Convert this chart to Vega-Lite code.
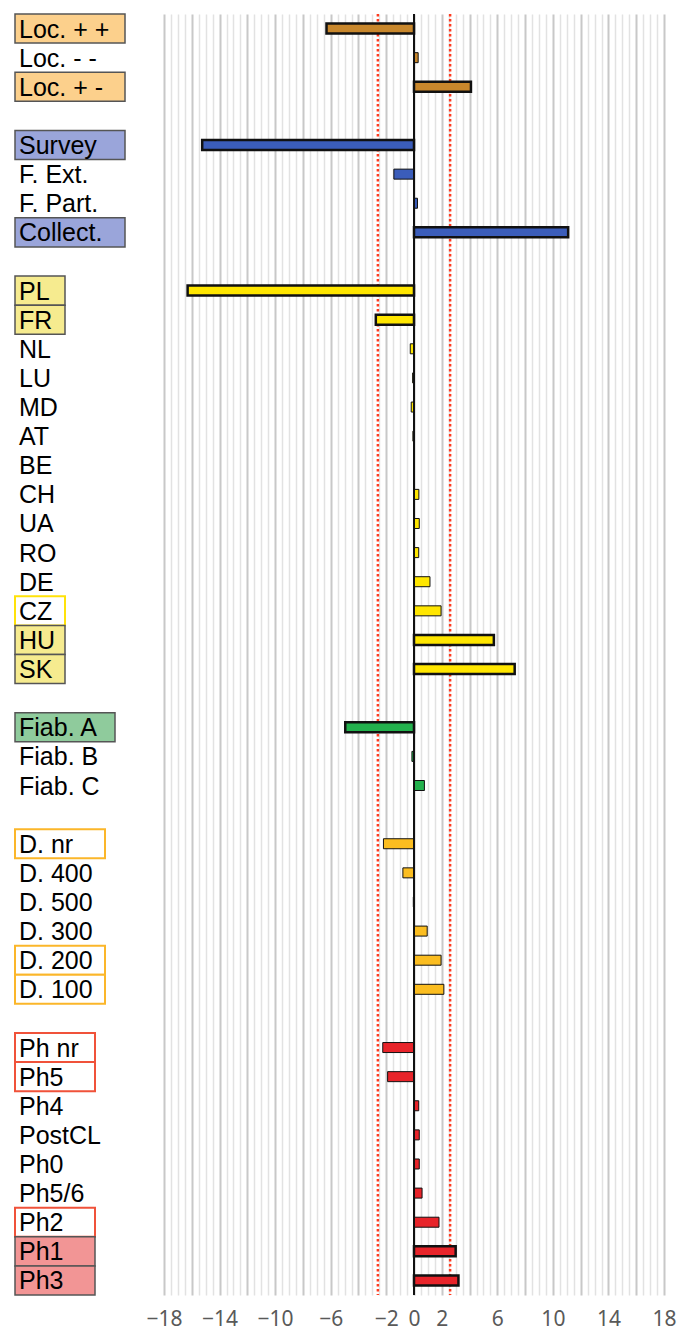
{
  "$schema": "https://vega.github.io/schema/vega-lite/v6.json",
  "padding": {"left": 14, "top": 12, "right": 0, "bottom": 5},
  "background": "white",
  "config": {"view": {"stroke": null}},
  "data": {"values": [
    {"group": "loc", "label": "Loc. + +", "value": -6.3, "sig": "strong"},
    {"group": "loc", "label": "Loc. - -", "value": 0.3, "sig": "none"},
    {"group": "loc", "label": "Loc. + -", "value": 4.1, "sig": "strong"},
    {"group": "survey", "label": "Survey", "value": -15.25, "sig": "strong"},
    {"group": "survey", "label": "F. Ext.", "value": -1.45, "sig": "none"},
    {"group": "survey", "label": "F. Part.", "value": 0.25, "sig": "none"},
    {"group": "survey", "label": "Collect.", "value": 11.1, "sig": "strong"},
    {"group": "country", "label": "PL", "value": -16.3, "sig": "strong"},
    {"group": "country", "label": "FR", "value": -2.75, "sig": "strong"},
    {"group": "country", "label": "NL", "value": -0.27, "sig": "none"},
    {"group": "country", "label": "LU", "value": -0.1, "sig": "none"},
    {"group": "country", "label": "MD", "value": -0.2, "sig": "none"},
    {"group": "country", "label": "AT", "value": -0.08, "sig": "none"},
    {"group": "country", "label": "BE", "value": -0.03, "sig": "none"},
    {"group": "country", "label": "CH", "value": 0.35, "sig": "none"},
    {"group": "country", "label": "UA", "value": 0.38, "sig": "none"},
    {"group": "country", "label": "RO", "value": 0.34, "sig": "none"},
    {"group": "country", "label": "DE", "value": 1.15, "sig": "none"},
    {"group": "country", "label": "CZ", "value": 1.95, "sig": "weak"},
    {"group": "country", "label": "HU", "value": 5.75, "sig": "strong"},
    {"group": "country", "label": "SK", "value": 7.25, "sig": "strong"},
    {"group": "fiab", "label": "Fiab. A", "value": -4.95, "sig": "strong"},
    {"group": "fiab", "label": "Fiab. B", "value": -0.15, "sig": "none"},
    {"group": "fiab", "label": "Fiab. C", "value": 0.75, "sig": "none"},
    {"group": "dist", "label": "D. nr", "value": -2.2, "sig": "weak"},
    {"group": "dist", "label": "D. 400", "value": -0.8, "sig": "none"},
    {"group": "dist", "label": "D. 500", "value": -0.05, "sig": "none"},
    {"group": "dist", "label": "D. 300", "value": 0.95, "sig": "none"},
    {"group": "dist", "label": "D. 200", "value": 1.95, "sig": "weak"},
    {"group": "dist", "label": "D. 100", "value": 2.15, "sig": "weak"},
    {"group": "phase", "label": "Ph nr", "value": -2.25, "sig": "weak"},
    {"group": "phase", "label": "Ph5", "value": -1.9, "sig": "weak"},
    {"group": "phase", "label": "Ph4", "value": 0.34, "sig": "none"},
    {"group": "phase", "label": "PostCL", "value": 0.38, "sig": "none"},
    {"group": "phase", "label": "Ph0", "value": 0.38, "sig": "none"},
    {"group": "phase", "label": "Ph5/6", "value": 0.58, "sig": "none"},
    {"group": "phase", "label": "Ph2", "value": 1.8, "sig": "weak"},
    {"group": "phase", "label": "Ph1", "value": 3.0, "sig": "strong"},
    {"group": "phase", "label": "Ph3", "value": 3.2, "sig": "strong"}
  ]},
  "spacing": 19,
  "bounds": "flush",
  "resolve": {"scale": {"fill": "independent", "stroke": "independent", "x": "independent"}},
  "hconcat": [
    {
      "width": 130,
      "height": 1281,
      "layer": [
        {
          "transform": [
            {"filter": "datum.sig != 'none'"},
            {"calculate": "length(datum.label)", "as": "len"},
            {"joinaggregate": [{"op": "max", "field": "len", "as": "boxLen"}], "groupby": ["group"]}
          ],
          "mark": {"type": "rect"},
          "encoding": {
            "x": {"field": "boxLen", "type": "quantitative", "scale": {"domain": [-3, 10], "nice": false, "zero": false}, "axis": null},
            "x2": {"datum": -3},
            "y": {"field": "label", "type": "nominal", "axis": null, "scale": {"paddingInner": 0, "paddingOuter": 0, "domain": ["Loc. + +","Loc. - -","Loc. + -","gap1","Survey","F. Ext.","F. Part.","Collect.","gap2","PL","FR","NL","LU","MD","AT","BE","CH","UA","RO","DE","CZ","HU","SK","gap3","Fiab. A","Fiab. B","Fiab. C","gap4","D. nr","D. 400","D. 500","D. 300","D. 200","D. 100","gap5","Ph nr","Ph5","Ph4","PostCL","Ph0","Ph5/6","Ph2","Ph1","Ph3"]}},
            "fill": {"condition": {"test": "datum.sig == 'weak'", "value": "#FFFFFF"}, "field": "group", "type": "nominal", "legend": null, "scale": {"domain": ["loc","survey","country","fiab","dist","phase"], "range": ["#FCD08C","#9AA5DA","#F6EB8F","#8FCB9C","#FBD27A","#F29595"]}},
            "stroke": {"condition": {"test": "datum.sig == 'strong'", "value": "#555555"}, "field": "group", "type": "nominal", "legend": null, "scale": {"domain": ["loc","survey","country","fiab","dist","phase"], "range": ["#E9A64A","#5A70C8","#FFE20A","#2EB052","#FBB62A","#F0523A"]}},
            "strokeWidth": {"condition": {"test": "datum.sig == 'strong'", "value": 1.5}, "value": 2}
          }
        },
        {
          "mark": {"type": "text", "align": "left", "baseline": "middle", "dx": 4, "dy": 1, "font": "Liberation Sans", "fontSize": 25, "color": "#000000"},
          "encoding": {
            "x": {"datum": -3, "type": "quantitative", "axis": null},
            "y": {"field": "label", "type": "nominal", "axis": null},
            "text": {"field": "label"}
          }
        }
      ]
    },
    {
      "width": 500,
      "height": 1281,
      "resolve": {"axis": {"x": "independent"}},
      "layer": [
        {
          "data": {"values": [{"threshold": -2.6}, {"threshold": 2.6}]},
          "mark": {"type": "rule", "color": "#FF3B1F", "strokeWidth": 2.5, "strokeDash": [2.5, 2.5]},
          "encoding": {
            "x": {"field": "threshold", "type": "quantitative", "scale": {"domain": [-18, 18], "nice": false, "zero": false},
              "axis": {"orient": "top", "grid": true, "labels": false, "ticks": false, "domain": false, "title": null, "gridColor": "#E2E2E2", "gridWidth": 1.5,
                "values": [-17.5,-17,-16.5,-15.5,-15,-14.5,-13.5,-13,-12.5,-11.5,-11,-10.5,-9.5,-9,-8.5,-7.5,-7,-6.5,-5.5,-5,-4.5,-3.5,-3,-2.5,-1.5,-1,-0.5,0.5,1,1.5,2.5,3,3.5,4.5,5,5.5,6.5,7,7.5,8.5,9,9.5,10.5,11,11.5,12.5,13,13.5,14.5,15,15.5,16.5,17,17.5]}}
          }
        },
        {
          "mark": {"type": "bar", "size": 10, "stroke": "#111111"},
          "encoding": {
            "x": {"field": "value", "type": "quantitative",
              "axis": {"orient": "bottom", "grid": true, "gridColor": "#C8C8C8", "gridWidth": 2, "ticks": false, "domain": false, "title": null, "labelFlush": false, "labelOverlap": false,
                "values": [-18,-16,-14,-12,-10,-8,-6,-4,-2,0,2,4,6,8,10,12,14,16,18],
                "labelExpr": "indexof([-18,-14,-10,-6,-2,0,2,6,10,14,18], datum.value) >= 0 ? datum.label : ''",
                "labelFont": "Noto Sans", "labelFontSize": 21, "labelColor": "#595959", "labelPadding": 13}},
            "y": {"field": "label", "type": "nominal", "axis": null, "scale": {"paddingInner": 0, "paddingOuter": 0, "domain": ["Loc. + +","Loc. - -","Loc. + -","gap1","Survey","F. Ext.","F. Part.","Collect.","gap2","PL","FR","NL","LU","MD","AT","BE","CH","UA","RO","DE","CZ","HU","SK","gap3","Fiab. A","Fiab. B","Fiab. C","gap4","D. nr","D. 400","D. 500","D. 300","D. 200","D. 100","gap5","Ph nr","Ph5","Ph4","PostCL","Ph0","Ph5/6","Ph2","Ph1","Ph3"]}},
            "fill": {"field": "group", "type": "nominal", "legend": null, "scale": {"domain": ["loc","survey","country","fiab","dist","phase"], "range": ["#C8872C","#3B5DBA","#FFE600","#23B14D","#FBBD20","#E8242A"]}},
            "strokeWidth": {"condition": {"test": "datum.sig == 'strong'", "value": 2.5}, "value": 1}
          }
        },
        {
          "data": {"values": [{"zero": 0}]},
          "mark": {"type": "rule", "color": "#111111", "strokeWidth": 2},
          "encoding": {
            "x": {"field": "zero", "type": "quantitative", "axis": null}
          }
        }
      ]
    }
  ]
}
